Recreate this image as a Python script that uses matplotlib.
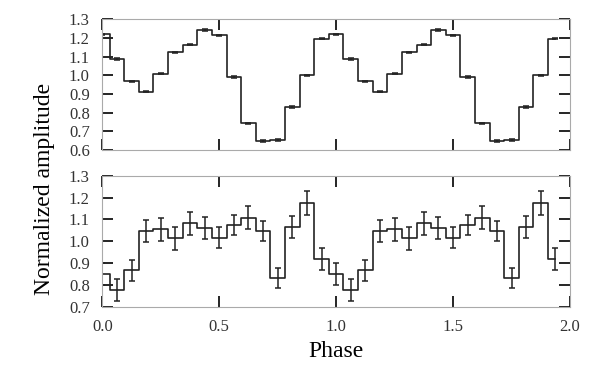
import matplotlib.pyplot as plt
import numpy as np

plt.rcParams['font.family'] = ['Liberation Serif', 'DejaVu Serif']

# 16 phase bins per cycle, shown twice (phase 0 - 2)
nbins = 16
top_amp = [1.220, 1.088, 0.968, 0.912, 1.009, 1.123, 1.164, 1.243,
           1.214, 0.991, 0.743, 0.648, 0.654, 0.829, 1.000, 1.196]
top_err = [0.004] * nbins
bot_amp = [0.848, 0.776, 0.866, 1.048, 1.054, 1.013, 1.082, 1.062,
           1.016, 1.074, 1.108, 1.048, 0.830, 1.065, 1.173, 0.918]
bot_err = [0.050, 0.049, 0.050, 0.050, 0.053, 0.052, 0.054, 0.050,
           0.048, 0.046, 0.052, 0.045, 0.046, 0.050, 0.055, 0.051]

phase = np.arange(2 * nbins) / nbins

fig = plt.figure(figsize=(6, 3.7), dpi=100)
ax1 = fig.add_axes([0.1705, 0.5946, 0.7795, 0.3532])
ax2 = fig.add_axes([0.1705, 0.1711, 0.7795, 0.3540])

for ax, amp, err, ylim in [(ax1, top_amp, top_err, (0.6, 1.3)),
                           (ax2, bot_amp, bot_err, (0.7, 1.3))]:
    y = np.array(amp * 2)
    e = np.array(err * 2)
    ax.step(phase, y, where='mid', color='#222222', lw=1.2)
    ax.errorbar(phase, y, yerr=e, fmt='none', ecolor='#222222',
                elinewidth=1.1, capsize=2.5, capthick=1.1)
    ax.set_xlim(0, 2)
    ax.set_ylim(*ylim)
    ax.set_xticks([0, 0.5, 1.0, 1.5, 2.0])
    ax.set_yticks(np.arange(ylim[0], 1.31, 0.1))
    ax.yaxis.set_major_formatter(plt.FormatStrFormatter('%.1f'))
    ax.xaxis.set_major_formatter(plt.FormatStrFormatter('%.1f'))
    ax.tick_params(direction='in', length=8, width=1.2, top=True, right=True,
                   labelsize=12, colors='black', labelcolor='#333333')
    ax.tick_params(axis='y', pad=9)
    ax.tick_params(axis='x', pad=9)
    for sp in ax.spines.values():
        sp.set_color('#aaaaaa')
        sp.set_linewidth(0.8)

ax1.tick_params(labelbottom=False)
ax2.set_xlabel('Phase', fontsize=17, labelpad=4)
fig.text(0.075, 0.49, 'Normalized amplitude', rotation=90,
         fontsize=17, ha='center', va='center')

fig.savefig('out.png', dpi=100)
